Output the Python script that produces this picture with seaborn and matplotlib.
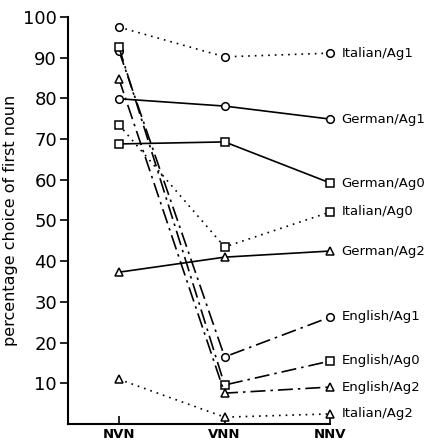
import matplotlib
matplotlib.use("Agg")
import matplotlib.pyplot as plt
import seaborn as sns
import pandas as pd

categories = ["NVN", "VNN", "NNV"]
series_names = ["Italian/Ag1", "German/Ag1", "German/Ag0", "Italian/Ag0", "German/Ag2",
                "English/Ag1", "English/Ag0", "English/Ag2", "Italian/Ag2"]
italian_ag1 = [97.5, 90.2, 91.1]
german_ag1 = [79.9, 78.1, 74.9]
german_ag0 = [68.8, 69.3, 59.2]
italian_ag0 = [73.5, 43.5, 52.1]
german_ag2 = [37.3, 41.0, 42.5]
english_ag1 = [91.7, 16.5, 26.3]
english_ag0 = [92.6, 9.6, 15.5]
english_ag2 = [84.8, 7.6, 9.1]
italian_ag2 = [11.0, 1.7, 2.5]
yticks = [10, 20, 30, 40, 50, 60, 70, 80, 90, 100]

values = [italian_ag1, german_ag1, german_ag0, italian_ag0, german_ag2,
          english_ag1, english_ag0, english_ag2, italian_ag2]

rows = []
for name, vals in zip(series_names, values):
    for i, (c, v) in enumerate(zip(categories, vals)):
        rows.append({"series": name, "cat": c, "pos": i, "value": v})
df = pd.DataFrame(rows)

sns.set_style("ticks")
plt.rcParams['font.family'] = ['DejaVu Sans']
plt.rcParams['text.color'] = 'black'
plt.rcParams['axes.labelcolor'] = 'black'
plt.rcParams['xtick.color'] = 'black'
plt.rcParams['ytick.color'] = 'black'
plt.rcParams['axes.edgecolor'] = 'black'

fig = plt.figure(figsize=(4.37, 4.45), dpi=100)
ax = fig.add_axes([0.156, 0.047, 0.60, 0.915])

def style_for(name):
    lang, ag = name.split("/")
    marker = {"Ag1": "o", "Ag0": "s", "Ag2": "^"}[ag]
    if lang == "Italian":
        dashes = (1, 3)
    elif lang == "German":
        dashes = ""
    else:
        dashes = (9, 3, 1.5, 3)
    return marker, dashes

for name in series_names:
    sub = df[df["series"] == name]
    marker, dashes = style_for(name)
    sns.lineplot(data=sub, x="pos", y="value", ax=ax, color="black", lw=1.2,
                 marker=marker, markersize=5.5, markerfacecolor="white",
                 markeredgecolor="black", markeredgewidth=1.1, clip_on=False,
                 sort=False, legend=False)
    line = ax.lines[-1]
    if dashes == "":
        line.set_linestyle("-")
    else:
        line.set_dashes(dashes)
    last = sub[sub["pos"] == 2]["value"].iloc[0]
    ax.annotate(name, xy=(2, last), xytext=(8, 0), textcoords="offset points",
                va="center", ha="left", fontsize=9.5, fontweight="medium",
                annotation_clip=False)

ax.set_xlim(-0.48, 2)
ax.set_ylim(0, 100)
ax.set_xticks([0, 1, 2])
ax.set_xticklabels(categories, fontsize=9.5, fontweight="bold")
ax.set_yticks(yticks)
ax.set_yticklabels([str(t) for t in yticks], fontsize=13)
ax.tick_params(axis="x", direction="in", length=6, width=1.2, pad=3)
ax.tick_params(axis="y", direction="out", length=6, width=1.2, pad=2)
ax.set_xlabel("")
ax.set_ylabel("percentage choice of first noun", fontsize=11.5, labelpad=4)
for s in ["top", "right"]:
    ax.spines[s].set_visible(False)
for s in ["left", "bottom"]:
    ax.spines[s].set_linewidth(1.5)

fig.savefig("out.png", dpi=100)
